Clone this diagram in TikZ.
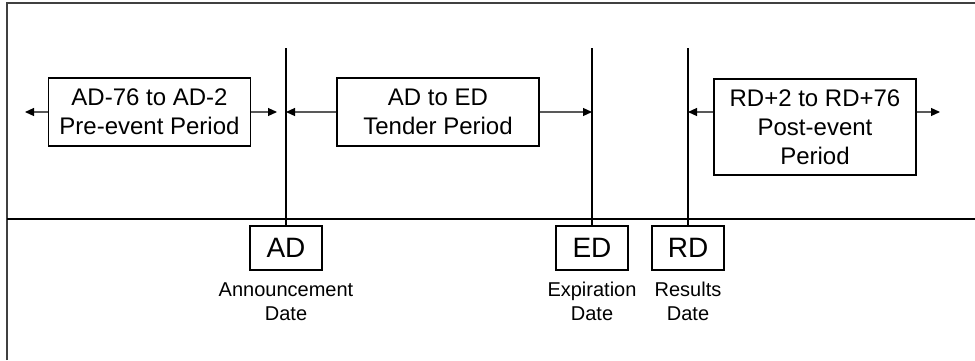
\documentclass[tikz,border=0pt]{standalone}
\usepackage{fontspec}
\setmainfont{Liberation Sans}
\usetikzlibrary{arrows.meta,positioning}

\begin{document}
\begin{tikzpicture}[
  x=0.5pt, y=-0.5pt,
  every node/.style={font=\fontsize{12}{14.5}\selectfont},
  period/.style={draw, line width=0.6pt, align=center, inner sep=0pt,
    minimum width=101pt, minimum height=34pt},
  datebox/.style={draw, line width=0.6pt, inner sep=0pt,
    minimum width=36pt, minimum height=22pt, font=\fontsize{14}{16}\selectfont},
  datelabel/.style={align=center, inner sep=0pt, font=\fontsize{10}{12}\selectfont},
  tip/.style={-{Triangle[length=4.5pt,width=4pt,black]}, line width=0.6pt, black!65}
]
\useasboundingbox (0,0) rectangle (975,360);
% Frame and time axis.
\draw[black!75, line width=1.1pt] (7,360) -- (7,3) -- (975,3);
\draw[line width=0.6pt] (7,219) -- (975,219);

% Event dates on the axis.
\node[datebox] (ad) at (286,248) {AD};
\node[datebox] (ed) at (592,248) {ED};
\node[datebox] (rd) at (688,248) {RD};
\node[datelabel, anchor=north] (adlab) at (286,282) {Announcement\\Date};
\node[datelabel, anchor=north] (edlab) at (592,282) {Expiration\\Date};
\node[datelabel, anchor=north] (rdlab) at (688,282) {Results\\Date};

\coordinate (adtop) at (286,48);
\coordinate (edtop) at (592,48);
\coordinate (rdtop) at (688,48);
\draw[line width=0.6pt] (adtop) -- (ad);
\draw[line width=0.6pt] (edtop) -- (ed);
\draw[line width=0.6pt] (rdtop) -- (rd);

% Event windows.
\node[period] (pre) at (149.5,112) {AD-76 to AD-2\\Pre-event Period};
\node[period] (tender) at (438,112) {AD to ED\\Tender Period};
\node[period, minimum height=48pt] (post) at (815,127)
  {RD+2 to RD+76\\Post-event\\Period};

\coordinate (farleft) at (25,112);
\coordinate (farright) at (940,112);
\draw[tip] (pre.west) -- (farleft);
\draw[tip] (pre.east) -- (277,112);
\draw[tip] (tender.west) -- (adtop |- tender.west);
\draw[tip] (tender.east) -- (edtop |- tender.east);
\draw[tip] (post.west |- pre.east) -- (rdtop |- pre.east);
\draw[tip] (post.east |- pre.east) -- (farright);
\end{tikzpicture}
\end{document}
